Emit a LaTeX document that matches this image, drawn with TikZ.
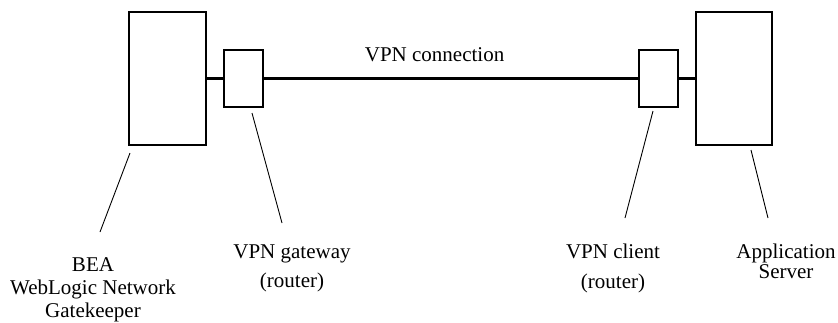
\documentclass[tikz,border=0pt]{standalone}
\usepackage{fontspec}
\setmainfont{Liberation Serif}
\begin{document}
\begin{tikzpicture}[x=1bp,y=-1bp,
  device/.style={draw,line width=2.7bp,inner sep=0pt,fill=white},
  link/.style={line width=2.7bp},
  leader/.style={line width=0.9bp},
  lbl/.style={inner sep=0pt,align=center,anchor=north},
]
\useasboundingbox (0,0) rectangle (838,322);

% devices
\node[device,minimum width=77bp,minimum height=133bp] (gk)  at (167.5,78.5) {};
\node[device,minimum width=39bp,minimum height=57bp]  (gw)  at (243.5,78.5) {};
\node[device,minimum width=39bp,minimum height=57bp]  (cl)  at (658.5,78.5) {};
\node[device,minimum width=76bp,minimum height=133bp] (app) at (734,78.5) {};

% network links
\draw[link] (gk.east) -- (gw.west);
\draw[link] (gw.east) -- node[pos=0.456,above=15.5bp,inner sep=0pt,font=\fontsize{21bp}{23bp}\selectfont] (vpn) {VPN connection} (cl.west);
\draw[link] (cl.east) -- (app.west);

% labels
\node[lbl,font=\fontsize{21bp}{23bp}\selectfont]   (gkl)  at (93,257)  {BEA\\WebLogic Network\\Gatekeeper};
\node[lbl,font=\fontsize{21bp}{29bp}\selectfont]   (gwl)  at (292,245) {VPN gateway\\(router)};
\node[lbl,font=\fontsize{21bp}{29.5bp}\selectfont] (cll)  at (613,244) {VPN client\\(router)};
\node[lbl,font=\fontsize{21bp}{17bp}\selectfont]   (appl) at (786,244) {Application\\Server};

% leader lines
\coordinate (gkA) at (130,153);  \coordinate (gkB) at (100,232);
\coordinate (gwA) at (252,113);  \coordinate (gwB) at (282,223);
\coordinate (clA) at (653,111);  \coordinate (clB) at (625,218);
\coordinate (apA) at (751,150);  \coordinate (apB) at (768,218);
\draw[leader] (gkA) -- (gkB);
\draw[leader] (gwA) -- (gwB);
\draw[leader] (clA) -- (clB);
\draw[leader] (apA) -- (apB);
\end{tikzpicture}
\end{document}
